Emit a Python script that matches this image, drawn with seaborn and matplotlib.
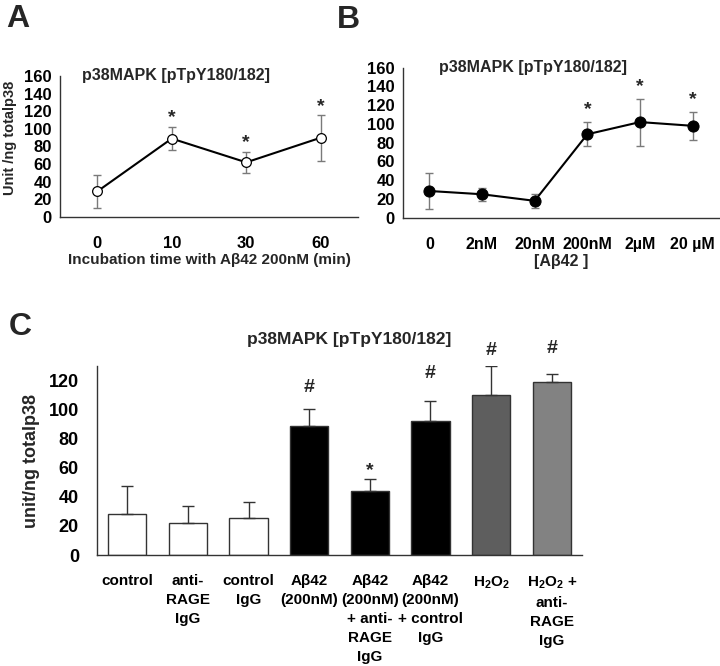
import matplotlib
matplotlib.use("Agg")
import matplotlib.pyplot as plt
from matplotlib.ticker import MultipleLocator, FixedLocator
import seaborn as sns
import pandas as pd
import numpy as np

sns.set_theme(style="white")
plt.rcParams['font.family'] = ['Liberation Sans', 'DejaVu Sans']
plt.rcParams['font.weight'] = 'bold'
plt.rcParams['mathtext.fontset'] = 'custom'
plt.rcParams['mathtext.rm'] = 'Liberation Sans:bold'
plt.rcParams['mathtext.bf'] = 'Liberation Sans:bold'
plt.rcParams['mathtext.it'] = 'Liberation Sans:bold'

# ---------------- data ----------------
a_labels = ["0", "10", "30", "60"]
a_means = [29, 89, 62, 90]
a_err = [19, 13, 12, 26]
a_sig = ["", "*", "*", "*"]
a_sig_y = [0, 113, 84, 125]

b_labels = ["0", "2nM", "20nM", "200nM", "2µM", "20 µM"]
b_means = [28.5, 25, 18, 89, 102, 98]
b_err = [19, 7, 7.5, 13, 25, 15]
b_sig = ["", "", "", "*", "*", "*"]
b_sig_y = [0, 0, 0, 115, 140, 126]

c_labels = ["control", "anti-\nRAGE\nIgG", "control\nIgG", "Aβ42\n(200nM)",
            "Aβ42\n(200nM)\n+ anti-\nRAGE\nIgG", "Aβ42\n(200nM)\n+ control\nIgG",
            "H$_{2}$O$_{2}$", "H$_{2}$O$_{2}$ +\nanti-\nRAGE\nIgG"]
c_means = [28.5, 22, 25.3, 88.5, 44.3, 92, 110.3, 119.3]
c_err = [19, 12, 11, 12, 8, 14, 20, 5]
c_sig = ["", "", "", "#", "*", "#", "#", "#"]
c_sig_y = [0, 0, 0, 115, 58, 125, 141, 142]
c_colors = ["#ffffff", "#ffffff", "#ffffff", "#000000", "#000000", "#000000", "#5e5e5e", "#828282"]

title = "p38MAPK [pTpY180/182]"
axcol = "#333333"

fig = plt.figure(figsize=(7.2, 6.66), dpi=100)
W, H = 720, 666

def add_ax(l, r, t, b):
    return fig.add_axes([l / W, 1 - b / H, (r - l) / W, (b - t) / H])

def style_ax(ax):
    for s in ["top", "right"]:
        ax.spines[s].set_visible(False)
    for s in ["left", "bottom"]:
        ax.spines[s].set_color(axcol)
        ax.spines[s].set_linewidth(1.0)
    ax.tick_params(axis="both", which="both", colors=axcol, direction="out", labelcolor="black")
    ax.grid(False)

# ---------------- panel A ----------------
axA = add_ax(60, 358, 76, 217)
dfA = pd.DataFrame({"x": np.arange(len(a_labels)), "y": a_means})
axA.errorbar(dfA["x"], dfA["y"], yerr=a_err, fmt="none", ecolor="#7a7a7a", elinewidth=1, capsize=3, capthick=1, zorder=2)
sns.lineplot(data=dfA, x="x", y="y", ax=axA, color="black", lw=1.5, marker="o", markersize=7,
             markerfacecolor="white", markeredgecolor="black", markeredgewidth=0.9, zorder=3)
for i, (s, yy) in enumerate(zip(a_sig, a_sig_y)):
    if s:
        axA.text(i, yy, s, ha="center", va="center", fontsize=14, fontweight="bold")
axA.set_xlim(-0.5, len(a_labels) - 0.5)
axA.set_ylim(0, 160)
axA.yaxis.set_major_locator(MultipleLocator(20))
axA.yaxis.set_minor_locator(MultipleLocator(10))
axA.set_xticks(np.arange(len(a_labels)))
axA.set_xticklabels(a_labels)
axA.xaxis.set_minor_locator(FixedLocator(np.arange(len(a_labels) + 1) - 0.5))
style_ax(axA)
axA.tick_params(axis="x", which="major", length=0, pad=14, labelsize=12)
axA.tick_params(axis="x", which="minor", length=4)
axA.tick_params(axis="y", which="major", length=4, labelsize=12, pad=2)
axA.tick_params(axis="y", which="minor", length=2.5)
axA.set_xlabel("Incubation time with Aβ42 200nM (min)", fontsize=11, fontweight="bold", labelpad=1)
axA.set_ylabel("Unit /ng totalp38", fontsize=10.5, fontweight="bold")
axA.yaxis.set_label_coords(-0.145, 0.56)
axA.set_title(title, fontsize=11.5, fontweight="bold", pad=-3, x=0.39)
fig.text(18 / W, 1 - 19 / H, "A", fontsize=23, fontweight="bold", ha="center", va="center")

# ---------------- panel B ----------------
axB = add_ax(403, 719, 67.7, 217.7)
dfB = pd.DataFrame({"x": np.arange(len(b_labels)), "y": b_means})
axB.errorbar(dfB["x"], dfB["y"], yerr=b_err, fmt="none", ecolor="#7a7a7a", elinewidth=1, capsize=3, capthick=1, zorder=2)
sns.lineplot(data=dfB, x="x", y="y", ax=axB, color="black", lw=1.5, marker="o", markersize=8,
             markerfacecolor="black", markeredgecolor="black", zorder=3)
for i, (s, yy) in enumerate(zip(b_sig, b_sig_y)):
    if s:
        axB.text(i, yy, s, ha="center", va="center", fontsize=14, fontweight="bold")
axB.set_xlim(-0.5, len(b_labels) - 0.5)
axB.set_ylim(0, 160)
axB.yaxis.set_major_locator(MultipleLocator(20))
axB.yaxis.set_minor_locator(MultipleLocator(10))
axB.set_xticks(np.arange(len(b_labels)))
axB.set_xticklabels(b_labels)
axB.xaxis.set_minor_locator(FixedLocator(np.arange(len(b_labels) + 1) - 0.5))
style_ax(axB)
axB.tick_params(axis="x", which="major", length=0, pad=14, labelsize=11.5)
axB.tick_params(axis="x", which="minor", length=4)
axB.tick_params(axis="y", which="major", length=4, labelsize=12, pad=2)
axB.tick_params(axis="y", which="minor", length=2.5)
axB.set_xlabel("[Aβ42 ]", fontsize=11.5, fontweight="bold", labelpad=1)
axB.set_ylabel("")
axB.set_title(title, fontsize=11.5, fontweight="bold", pad=-3, x=0.41)
fig.text(348 / W, 1 - 20 / H, "B", fontsize=23, fontweight="bold", ha="center", va="center")

# ---------------- panel C ----------------
axC = add_ax(97, 582, 366, 555)
dfC = pd.DataFrame({"label": c_labels, "value": c_means})
sns.barplot(data=dfC, x="label", y="value", hue="label", palette=c_colors, legend=False,
            ax=axC, width=0.63, edgecolor=axcol, linewidth=1, saturation=1)
axC.errorbar(np.arange(len(c_labels)), c_means, yerr=[np.zeros(len(c_err)), c_err], fmt="none",
             ecolor=axcol, elinewidth=1, capsize=4, capthick=1, zorder=1)
for i, (s, yy) in enumerate(zip(c_sig, c_sig_y)):
    if s:
        axC.text(i, yy, s, ha="center", va="center", fontsize=14, fontweight="bold")
axC.set_xlim(-0.5, len(c_labels) - 0.5)
axC.set_ylim(0, 130)
axC.set_yticks([0, 20, 40, 60, 80, 100, 120])
axC.xaxis.set_minor_locator(FixedLocator(np.arange(len(c_labels) + 1) - 0.5))
style_ax(axC)
axC.set_xticks(np.arange(len(c_labels)))
axC.set_xticklabels(c_labels, fontsize=11, fontweight="bold", va="top", linespacing=1.45)
axC.tick_params(axis="x", which="major", length=0, pad=14)
axC.tick_params(axis="x", which="minor", length=4)
axC.tick_params(axis="y", which="major", length=6, labelsize=13, pad=7)
axC.set_xlabel("")
axC.set_ylabel("unit/ng totalp38", fontsize=13, fontweight="bold", labelpad=6)
axC.set_title(title, fontsize=12.5, fontweight="bold", pad=16, x=0.52)
fig.text(20 / W, 1 - 327 / H, "C", fontsize=23, fontweight="bold", ha="center", va="center")

fig.savefig("out.png", dpi=100)
